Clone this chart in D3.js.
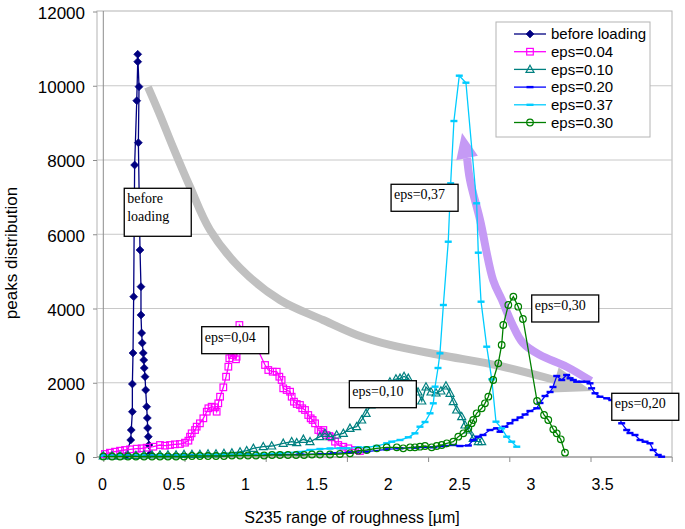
<!DOCTYPE html>
<html><head><meta charset="utf-8">
<script src="https://cdn.jsdelivr.net/npm/d3@7"></script>
<style>body{margin:0;background:#fff;} svg{display:block;}</style>
</head><body>
<svg id="chart" width="685" height="529"></svg>
<script>
// ---------------- DATA ----------------
const seriesNames = ["before loading","eps=0.04","eps=0.10","eps=0.20","eps=0.37","eps=0.30"];

const beforeLoading = [[0.14,40],[0.169,458],[0.172,727],[0.179,1220],[0.179,1966],[0.183,2801],[0.187,4318],[0.193,7865],[0.206,9597],[0.212,10648],[0.212,10847],[0.220,9975],[0.216,8466],[0.226,5576],[0.232,4587],[0.232,3825],[0.236,3340],[0.240,3071],[0.246,2801],[0.249,2613],[0.252,2397],[0.257,2163],[0.261,1805],[0.267,1355],[0.271,1051],[0.273,781],[0.277,547],[0.281,323],[0.288,81]];

const eps004 = [[0.010,81],[0.041,116],[0.072,143],[0.103,170],[0.134,189],[0.165,207],[0.206,224],[0.236,234],[0.267,251],[0.308,277],[0.349,323],[0.380,305],[0.411,323],[0.441,341],[0.472,350],[0.503,386],[0.524,440],[0.534,547],[0.544,638],[0.565,727],[0.575,817],[0.595,907],[0.616,1042],[0.637,1220],[0.647,1312],[0.667,1355],[0.688,1337],[0.698,1220],[0.708,1446],[0.719,1624],[0.739,1877],[0.756,2163],[0.770,2432],[0.776,2659],[0.791,2747],[0.801,2793],[0.817,2632],[0.821,2702],[0.838,3556],[0.87,3380],[0.91,3150],[0.95,2900],[0.996,2478],[1.016,2343],[1.043,2298],[1.068,2298],[1.084,2163],[1.098,2074],[1.108,1850],[1.129,1805],[1.150,1759],[1.160,1624],[1.174,1490],[1.191,1428],[1.211,1401],[1.225,1312],[1.242,1266],[1.262,1131],[1.277,1042],[1.289,997],[1.304,907],[1.324,727],[1.339,682],[1.355,727],[1.371,593],[1.392,566],[1.406,530],[1.427,413],[1.447,323],[1.478,277],[1.509,234],[1.55,190],[1.58,160]];

const eps010 = [[0.000,27],[0.054,27],[0.103,27],[0.152,40],[0.201,40],[0.251,54],[0.300,54],[0.349,54],[0.398,54],[0.448,54],[0.497,67],[0.546,67],[0.595,67],[0.645,81],[0.694,81],[0.743,94],[0.792,108],[0.842,135],[0.883,170],[0.924,234],[0.985,277],[1.037,296],[1.108,369],[1.160,412],[1.191,385],[1.232,477],[1.273,412],[1.334,547],[1.365,638],[1.396,547],[1.437,593],[1.478,638],[1.519,773],[1.560,816],[1.591,997],[1.618,1177],[1.648,1401],[1.685,1643],[1.722,1859],[1.765,2020],[1.802,2101],[1.827,2120],[1.852,2168],[1.878,2120],[1.913,1859],[1.938,1751],[1.961,1508],[1.987,1886],[2.018,1751],[2.049,1724],[2.079,1778],[2.110,1912],[2.135,1716],[2.155,1490],[2.176,1266],[2.207,1086],[2.227,862],[2.248,727],[2.278,504],[2.309,412],[2.330,412]];

const eps020 = [[0.000,40],[0.103,40],[0.226,40],[0.349,54],[0.472,54],[0.595,54],[0.719,54],[0.842,67],[0.965,67],[1.088,67],[1.211,73],[1.334,81],[1.416,100],[1.519,121],[1.622,143],[1.745,207],[1.827,234],[1.925,250],[2.032,261],[2.094,296],[2.155,323],[2.196,296],[2.248,310],[2.278,458],[2.309,547],[2.338,593],[2.381,727],[2.422,773],[2.443,681],[2.473,816],[2.504,908],[2.535,997],[2.566,1064],[2.597,1145],[2.627,1239],[2.669,1312],[2.689,1455],[2.720,1643],[2.751,1751],[2.769,1886],[2.792,2182],[2.823,2074],[2.853,2209],[2.874,2120],[2.894,2074],[2.915,2028],[2.946,2028],[2.977,2028],[2.997,1985],[3.007,1850],[3.028,1716],[3.058,1624],[3.100,1581],[3.131,1535],[3.192,908],[3.223,727],[3.243,646],[3.274,593],[3.305,458],[3.336,412],[3.366,369],[3.386,189],[3.417,54],[3.438,8]];

const eps037 = [[0.000,40],[0.103,54],[0.226,54],[0.349,54],[0.472,54],[0.595,54],[0.719,67],[0.842,67],[0.965,81],[1.088,108],[1.211,135],[1.272,189],[1.334,215],[1.396,229],[1.457,234],[1.499,234],[1.570,261],[1.622,261],[1.684,296],[1.745,369],[1.776,412],[1.827,458],[1.878,531],[1.919,638],[1.950,816],[1.981,943],[2.012,1177],[2.032,1446],[2.043,1894],[2.061,2397],[2.073,2793],[2.094,4094],[2.124,5799],[2.139,7372],[2.159,9050],[2.192,10271],[2.233,10082],[2.299,6834],[2.309,5503],[2.326,4183],[2.361,2971],[2.392,2093],[2.418,951],[2.453,773],[2.484,547],[2.515,412],[2.546,277]];

const eps030 = [[0.000,13],[0.054,13],[0.103,13],[0.152,13],[0.201,13],[0.251,13],[0.300,13],[0.349,13],[0.398,13],[0.448,13],[0.497,13],[0.546,27],[0.595,27],[0.645,27],[0.694,27],[0.743,27],[0.792,40],[0.842,40],[0.891,40],[0.940,40],[0.990,40],[1.039,54],[1.088,54],[1.137,54],[1.187,54],[1.236,54],[1.285,67],[1.334,67],[1.396,67],[1.457,81],[1.519,100],[1.570,170],[1.622,189],[1.684,234],[1.745,261],[1.807,261],[1.847,234],[1.889,261],[1.919,261],[1.950,277],[1.981,296],[2.022,261],[2.053,296],[2.084,323],[2.115,369],[2.155,412],[2.186,547],[2.217,638],[2.248,773],[2.268,908],[2.278,997],[2.299,1177],[2.330,1312],[2.350,1446],[2.371,1624],[2.401,2074],[2.432,2524],[2.453,3017],[2.463,3556],[2.494,4094],[2.525,4318],[2.555,4048],[2.584,3717],[2.671,1508],[2.714,1131],[2.740,997],[2.771,746],[2.792,638],[2.817,477],[2.843,116]];

const seriesData = [beforeLoading, eps004, eps010, eps020, eps037, eps030];

const xTickValues = [0,0.5,1,1.5,2,2.5,3,3.5];
const xTickLabels = ["0","0.5","1","1.5","2","2.5","3","3.5"];
const yTickValues = [0,2000,4000,6000,8000,10000,12000];
const yTickLabels = ["0","2000","4000","6000","8000","10000","12000"];

const xTitle = "S235 range of roughness [\u00b5m]";
const yTitle = "peaks distribution";

// annotation text boxes (anchor = top-left corner in data units)
const noteTexts = [["before","loading"],["eps=0,04"],["eps=0,10"],["eps=0,37"],["eps=0,30"],["eps=0,20"]];
const noteAnchors = [[0.129,7238],[0.606,3510],[1.515,2055],[1.772,7346],[2.638,4364],[3.131,1716]];

// annotation arrows (path in data units, last point = tip)
const greyArrow = [[0.275,9966],[0.349,9212],[0.429,8350],[0.534,7273],[0.657,6114],[0.842,5091],[1.088,4229],[1.353,3690],[1.562,3286],[1.765,3017],[2.073,2747],[2.443,2451],[2.781,2074],[3.009,1778]];
const purpleArrow = [[3.003,2047],[2.853,2432],[2.689,2747],[2.584,3071],[2.515,3609],[2.455,4229],[2.400,4768],[2.320,6384],[2.258,7461],[2.240,8054],[2.209,8727]];

// ---------------- STYLE ----------------
const colors = ["#000080","#ff00ff","#008080","#0000ff","#00ccff","#008000"];
const markers = ["diamond","square","triangle","dash","dash","circle"];
const sans = "'Liberation Sans', Arial, sans-serif";
const serif = "'Liberation Serif', 'Times New Roman', serif";

const svg = d3.select("#chart");
const frame = {left:97, right:672, top:11, bottom:457};

const x = d3.scaleLinear().domain([0,3.5]).range([103.3,671.7]);
const xLab = d3.scaleLinear().domain([0,3.5]).range([102,602]);
const y = d3.scaleLinear().domain([0,12000]).range([457,11.5]);

// frame
svg.append("rect").attr("x",frame.left).attr("y",frame.top)
  .attr("width",frame.right-frame.left).attr("height",frame.bottom-frame.top)
  .attr("fill","#fff").attr("stroke","#b4b4b4").attr("stroke-width",1);

// gridlines
svg.append("g").selectAll("line").data(yTickValues.filter(v=>v>0 && v<12000)).join("line")
  .attr("x1",frame.left).attr("x2",frame.right)
  .attr("y1",d=>y(d)).attr("y2",d=>y(d))
  .attr("stroke","#c8c8c8").attr("stroke-width",1);

// y axis line (at x=0)
svg.append("line").attr("x1",x(0)).attr("x2",x(0)).attr("y1",frame.top).attr("y2",frame.bottom)
  .attr("stroke","#8c8c8c").attr("stroke-width",1);

// x axis ticks (data scale)
const xAxis = svg.append("g").attr("transform",`translate(0,${frame.bottom})`)
  .call(d3.axisBottom(x).tickValues(xTickValues).tickSize(5).tickFormat(""));
xAxis.select(".domain").remove();
xAxis.selectAll("line").attr("stroke","#8c8c8c");
svg.append("line").attr("x1",frame.left).attr("x2",frame.right).attr("y1",frame.bottom).attr("y2",frame.bottom)
  .attr("stroke","#8c8c8c").attr("stroke-width",1);

// x tick labels
const xLabAxis = svg.append("g").attr("transform",`translate(0,${frame.bottom})`)
  .call(d3.axisBottom(xLab).tickValues(xTickValues).tickSize(0).tickPadding(22)
    .tickFormat((d,i)=>xTickLabels[i]));
xLabAxis.select(".domain").remove();
xLabAxis.selectAll("text").attr("font-family",sans).attr("font-size",16).attr("fill","#000");

// y axis
const yAxis = svg.append("g").attr("transform",`translate(${frame.left},0)`)
  .call(d3.axisLeft(y).tickValues(yTickValues).tickSize(4).tickPadding(8)
    .tickFormat((d,i)=>yTickLabels[i]));
yAxis.select(".domain").remove();
yAxis.selectAll("line").attr("stroke","#8c8c8c");
yAxis.selectAll("text").attr("font-family",sans).attr("font-size",17).attr("fill","#000").attr("dy","0.4em");

// titles
svg.append("text").attr("x",352).attr("y",523).attr("text-anchor","middle")
  .attr("font-family",sans).attr("font-size",16).text(xTitle);
svg.append("text").attr("transform","translate(17,253) rotate(-90)").attr("text-anchor","middle")
  .attr("font-family",sans).attr("font-size",17).text(yTitle);

// arrows (below series)
function drawArrow(pts, color, width, headHalf){
  const px = pts.map(p=>[x(p[0]),y(p[1])]);
  const tip = px[px.length-1], base = px[px.length-2];
  svg.append("path").attr("d",d3.line().curve(d3.curveCatmullRom.alpha(0.5))(px.slice(0,-1)))
    .attr("fill","none").attr("stroke",color).attr("stroke-width",width);
  const dx = tip[0]-base[0], dy = tip[1]-base[1], L = Math.hypot(dx,dy);
  const nx = -dy/L, ny = dx/L;
  svg.append("path").attr("d",`M${tip[0]},${tip[1]}L${base[0]+nx*headHalf},${base[1]+ny*headHalf}L${base[0]-nx*headHalf},${base[1]-ny*headHalf}Z`)
    .attr("fill",color);
}
drawArrow(greyArrow,"#c0c0c0",8,13);
drawArrow(purpleArrow,"#c59af5",8,11);

// marker helper
function drawMarker(g, type, color){
  if(type==="diamond") g.append("path").attr("d","M0,-4L4,0L0,4L-4,0Z").attr("fill",color).attr("stroke",color).attr("stroke-width",0.6);
  else if(type==="square") g.append("rect").attr("x",-3.3).attr("y",-3.3).attr("width",6.6).attr("height",6.6).attr("fill","none").attr("stroke",color).attr("stroke-width",1.2);
  else if(type==="triangle") g.append("path").attr("d","M0,-4.2L4,3L-4,3Z").attr("fill","none").attr("stroke",color).attr("stroke-width",1.2);
  else if(type==="dash") g.append("rect").attr("x",-3.5).attr("y",-1.2).attr("width",7).attr("height",2.4).attr("fill",color);
  else if(type==="circle") g.append("circle").attr("r",3.3).attr("fill","none").attr("stroke",color).attr("stroke-width",1.2);
}

// series
const line = d3.line().x(d=>x(d[0])).y(d=>y(d[1]));
seriesData.forEach((data,i)=>{
  const g = svg.append("g");
  g.append("path").attr("d",line(data)).attr("fill","none").attr("stroke",colors[i]).attr("stroke-width",1.3);
  data.forEach(d=>{
    const m = g.append("g").attr("transform",`translate(${x(d[0])},${y(d[1])})`);
    drawMarker(m, markers[i], colors[i]);
  });
});

// text boxes
noteTexts.forEach((lines,i)=>{
  const bx = x(noteAnchors[i][0]), by = y(noteAnchors[i][1]);
  const h = lines.length>1 ? 48 : 27;
  svg.append("rect").attr("x",bx).attr("y",by).attr("width",67).attr("height",h)
    .attr("fill","#fff").attr("stroke","#000").attr("stroke-width",1.3);
  lines.forEach((t,j)=>{
    svg.append("text").attr("x",bx+3).attr("y",by+15+j*18)
      .attr("font-family",serif).attr("font-size",14).attr("fill","#000").text(t);
  });
});

// legend
const lg = svg.append("g");
lg.append("rect").attr("x",496).attr("y",22).attr("width",154).attr("height",115)
  .attr("fill","#fff").attr("stroke","#b4b4b4").attr("stroke-width",1);
seriesNames.forEach((name,i)=>{
  const cy = 34 + i*17.7;
  lg.append("line").attr("x1",514).attr("x2",546).attr("y1",cy).attr("y2",cy)
    .attr("stroke",colors[i]).attr("stroke-width",1.3);
  const m = lg.append("g").attr("transform",`translate(530,${cy})`);
  drawMarker(m, markers[i], colors[i]);
  lg.append("text").attr("x",551).attr("y",cy+5.3).attr("font-family",sans).attr("font-size",15).text(name);
});
</script>
</body></html>
